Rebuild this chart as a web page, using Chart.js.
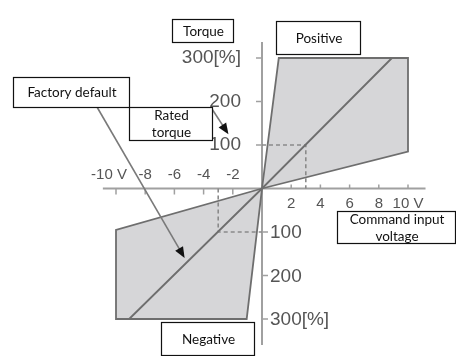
<!DOCTYPE html>
<html>
<head>
<meta charset="utf-8">
<script src="https://cdn.jsdelivr.net/npm/chart.js@4.4.0/dist/chart.umd.min.js"></script>
<style>
  body { margin: 0; background: #fff; }
</style>
</head>
<body>
<canvas id="torqueChart" width="456" height="356"></canvas>
<script>
// Axis ticks
const xTicks = [-10, -8, -6, -4, -2, 2, 4, 6, 8, 10];
const xTickLabels = ["-10 V", "-8", "-6", "-4", "-2", "2", "4", "6", "8", "10 V"];
const yTicks = [300, 200, 100, -100, -200, -300];
const yTickLabels = ["300[%]", "200", "100", "100", "200", "300[%]"];

// Shaded torque ranges (command voltage [V], torque [%])
const positiveV = [0, 1.15, 10, 10, 0];
const positiveT = [0, 300, 300, 85, 0];
const negativeV = [0, -10, -10, -1.05, 0];
const negativeT = [0, -95, -300, -300, 0];

// Factory default line
const defaultV = [-9.1, 0, 8.9];
const defaultT = [-300, 0, 300];

// Rated torque guides
const ratedPosV = [0, 3, 3];
const ratedPosT = [100, 100, 0];
const ratedNegV = [-3, -3, 0];
const ratedNegT = [0, -100, -100];

// Arrow tips (data coordinates)
const factoryArrowTip = [-5.3, -160];
const ratedArrowTip = [-2.3, 125];

function pts(vs, ts) {
  return vs.map((v, i) => ({ x: v, y: ts[i] }));
}

const lineColor = "#6e6e6e";
const areaColor = "#d6d6d8";

// Center axes with split tick labels
const centerAxes = {
  id: "centerAxes",
  beforeDatasetsDraw(chart) {
    const { ctx } = chart;
    const x = chart.scales.x;
    const y = chart.scales.y;
    const x0 = x.getPixelForValue(0);
    const y0 = y.getPixelForValue(0);

    ctx.save();
    ctx.strokeStyle = "#a0a0a0";
    ctx.lineWidth = 2;
    ctx.beginPath();
    ctx.moveTo(x.getPixelForValue(-10.9), y0);
    ctx.lineTo(x.getPixelForValue(11.2), y0);
    ctx.moveTo(x0, y.getPixelForValue(337));
    ctx.lineTo(x0, y.getPixelForValue(-360));
    ctx.stroke();

    ctx.lineWidth = 1.5;
    ctx.beginPath();
    xTicks.forEach((v) => {
      const px = x.getPixelForValue(v);
      if (v < 0) {
        ctx.moveTo(px, y0);
        ctx.lineTo(px, y0 + 6);
      } else {
        ctx.moveTo(px, y0 - 4);
        ctx.lineTo(px, y0);
      }
    });
    yTicks.forEach((v) => {
      const py = y.getPixelForValue(v);
      if (v > 0) {
        ctx.moveTo(x0 - 6, py);
        ctx.lineTo(x0, py);
      } else {
        ctx.moveTo(x0, py);
        ctx.lineTo(x0 + 6, py);
      }
    });
    ctx.stroke();

    ctx.fillStyle = "#555";
    ctx.font = "15px 'Liberation Sans', Arial, sans-serif";
    ctx.textAlign = "center";
    ctx.textBaseline = "middle";
    xTicks.forEach((v, i) => {
      const px = x.getPixelForValue(v);
      ctx.fillText(xTickLabels[i], v === -10 ? px - 7 : px, v < 0 ? y0 - 14 : y0 + 15);
    });

    ctx.font = "19px 'Liberation Sans', Arial, sans-serif";
    yTicks.forEach((v, i) => {
      const py = y.getPixelForValue(v);
      if (v > 0) {
        ctx.textAlign = "right";
        ctx.fillText(yTickLabels[i], x0 - 21, py);
      } else {
        ctx.textAlign = "left";
        ctx.fillText(yTickLabels[i], x0 + 8, py + 1);
      }
    });
    ctx.restore();
  },
};

// Callout boxes and arrows
const boxes = [
  { lines: ["Torque"], x: 172, y: 19, w: 61, h: 23 },
  { lines: ["Positive"], x: 276, y: 21, w: 84, h: 33 },
  { lines: ["Factory default"], x: 13, y: 77, w: 116, h: 30 },
  { lines: ["Rated", "torque"], x: 129, y: 107, w: 83, h: 33 },
  { lines: ["Command input", "voltage"], x: 337, y: 211, w: 118, h: 32 },
  { lines: ["Negative"], x: 161, y: 322, w: 93, h: 33 },
];

function drawArrow(ctx, fx, fy, tx, ty) {
  const ang = Math.atan2(ty - fy, tx - fx);
  ctx.strokeStyle = "#7a7a7a";
  ctx.lineWidth = 1.6;
  ctx.beginPath();
  ctx.moveTo(fx, fy);
  ctx.lineTo(tx - 8 * Math.cos(ang), ty - 8 * Math.sin(ang));
  ctx.stroke();
  ctx.fillStyle = "#111";
  ctx.beginPath();
  ctx.moveTo(tx, ty);
  ctx.lineTo(tx - 11 * Math.cos(ang) + 4.5 * Math.sin(ang), ty - 11 * Math.sin(ang) - 4.5 * Math.cos(ang));
  ctx.lineTo(tx - 11 * Math.cos(ang) - 4.5 * Math.sin(ang), ty - 11 * Math.sin(ang) + 4.5 * Math.cos(ang));
  ctx.closePath();
  ctx.fill();
}

const callouts = {
  id: "callouts",
  afterDraw(chart) {
    const { ctx } = chart;
    const x = chart.scales.x;
    const y = chart.scales.y;
    ctx.save();

    drawArrow(ctx, 97, 107, x.getPixelForValue(factoryArrowTip[0]), y.getPixelForValue(factoryArrowTip[1]));
    drawArrow(ctx, 212, 109, x.getPixelForValue(ratedArrowTip[0]), y.getPixelForValue(ratedArrowTip[1]));

    ctx.font = "13.5px Lato, 'Open Sans', sans-serif";
    ctx.textAlign = "center";
    ctx.textBaseline = "middle";
    boxes.forEach((b) => {
      ctx.fillStyle = "#fff";
      ctx.fillRect(b.x, b.y, b.w, b.h);
      ctx.strokeStyle = "#111";
      ctx.lineWidth = 1.2;
      ctx.strokeRect(b.x + 0.5, b.y + 0.5, b.w, b.h);
      ctx.fillStyle = "#111";
      const cy = b.y + b.h / 2 + 1;
      const step = 17;
      b.lines.forEach((t, i) => {
        ctx.fillText(t, b.x + b.w / 2 + 1, cy + (i - (b.lines.length - 1) / 2) * step);
      });
    });
    ctx.restore();
  },
};

const ctx = document.getElementById("torqueChart").getContext("2d");
const torqueChart = new Chart(ctx, {
  type: "scatter",
  data: {
    datasets: [
      {
        label: "Factory default",
        data: pts(defaultV, defaultT),
        showLine: true,
        borderColor: lineColor,
        borderWidth: 1.8,
        order: 1,
      },
      {
        label: "Rated torque +",
        data: pts(ratedPosV, ratedPosT),
        showLine: true,
        borderColor: "#8a8a8a",
        borderWidth: 1.6,
        borderDash: [4, 3],
        order: 2,
      },
      {
        label: "Rated torque -",
        data: pts(ratedNegV, ratedNegT),
        showLine: true,
        borderColor: "#8a8a8a",
        borderWidth: 1.6,
        borderDash: [4, 3],
        order: 2,
      },
      {
        label: "Positive",
        data: pts(positiveV, positiveT),
        showLine: true,
        fill: "shape",
        backgroundColor: areaColor,
        borderColor: lineColor,
        borderWidth: 1.8,
        order: 3,
      },
      {
        label: "Negative",
        data: pts(negativeV, negativeT),
        showLine: true,
        fill: "shape",
        backgroundColor: areaColor,
        borderColor: lineColor,
        borderWidth: 1.8,
        order: 3,
      },
    ],
  },
  options: {
    responsive: false,
    animation: false,
    layout: {
      padding: { left: 116, right: 48, top: 58, bottom: 37 },
    },
    datasets: {
      scatter: { clip: false, pointRadius: 0, borderJoinStyle: "miter" },
    },
    scales: {
      x: { type: "linear", min: -10, max: 10, display: false },
      y: { type: "linear", min: -300, max: 300, display: false },
    },
    plugins: {
      legend: { display: false },
      tooltip: { enabled: false },
    },
  },
  plugins: [centerAxes, callouts],
});
</script>
</body>
</html>
